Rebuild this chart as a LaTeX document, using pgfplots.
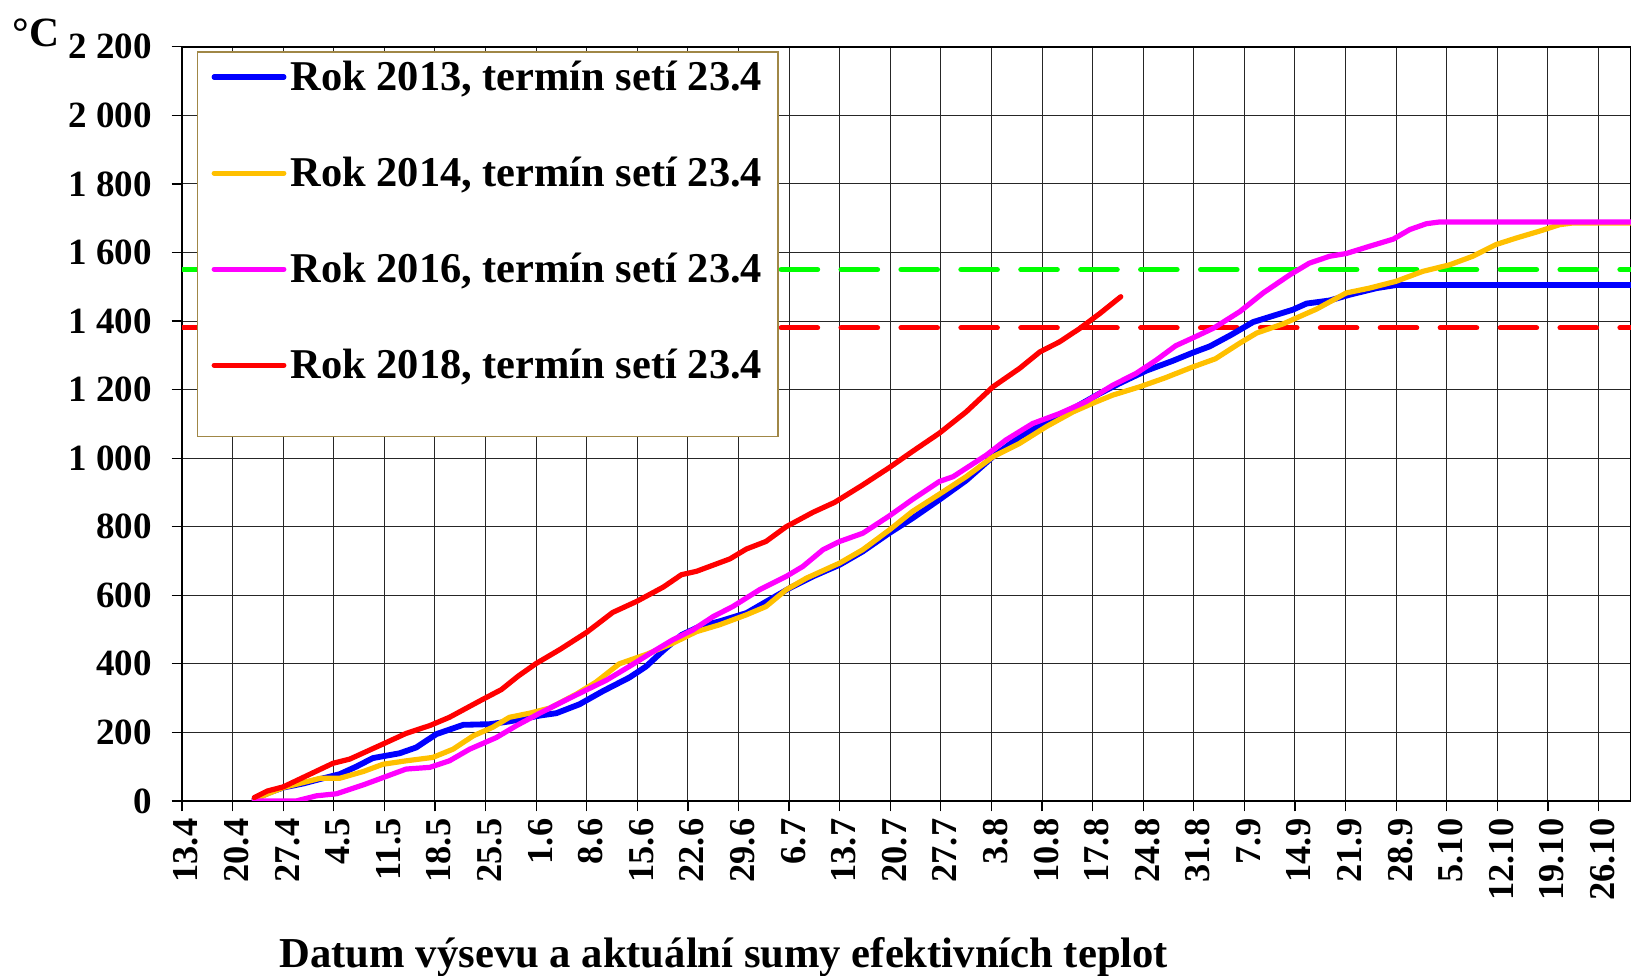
\documentclass[border=0pt]{standalone}
\usepackage{pgfplots}
\pgfplotsset{compat=1.18}
\usepackage{fontspec}
\setmainfont{Liberation Serif}
\definecolor{c13}{RGB}{0,0,255}
\definecolor{c14}{RGB}{255,192,0}
\definecolor{c16}{RGB}{255,0,255}
\definecolor{c18}{RGB}{255,0,0}
\definecolor{cgr}{RGB}{0,255,0}
\definecolor{legbord}{RGB}{160,135,70}
\begin{document}
\begin{tikzpicture}
\begin{axis}[
  scale only axis, width=696.5pt, height=362.5pt,
  xmin=0, xmax=200.5, ymin=0, ymax=2200,
  xtick={0,7,...,196},
  xticklabels={13.4,20.4,27.4,4.5,11.5,18.5,25.5,1.6,8.6,15.6,22.6,29.6,6.7,13.7,20.7,27.7,3.8,10.8,17.8,24.8,31.8,7.9,14.9,21.9,28.9,5.10,12.10,19.10,26.10},
  ytick={0,200,...,2200},
  grid=major,
  major grid style={black!85, line width=0.5pt},
  axis line style={black, line width=0.8pt},
  tick align=outside, xtick pos=bottom, ytick pos=left,
  major tick length=5pt,
  tick style={black, line width=0.6pt},
  /pgf/number format/assume math mode=true,
  /pgf/number format/1000 sep={\ },
  yticklabel style={font=\fontsize{17.8}{20}\selectfont\bfseries, xshift=-6pt},
  xticklabel style={font=\fontsize{17.5}{20}\selectfont\bfseries, rotate=90, anchor=east, yshift=-2pt},
  xlabel={Datum výsevu a aktuální sumy efektivních teplot},
  every axis x label/.style={at={(rel axis cs:0.374,0)}, anchor=base, yshift=-80pt, font=\fontsize{20.5}{24}\selectfont\bfseries},
  ylabel={°C},
  every axis y label/.style={at={(rel axis cs:0,1)}, anchor=base west, xshift=-85pt, font=\fontsize{20}{24}\selectfont\bfseries},
  legend style={at={(rel axis cs:0,1)}, anchor=north west, xshift=6.5pt, yshift=-2.5pt,
    draw=none, fill=none,
    font=\fontsize{20.4}{24}\selectfont\bfseries,
    inner xsep=7.5pt, inner ysep=4pt, row sep=30.5pt,
    cells={anchor=west}, nodes={inner sep=0pt},
    /tikz/every odd column/.style={column sep=2pt}},
  legend image code/.code={\draw[#1, line width=2.5pt] (0pt,0pt) -- (33.5pt,0pt);},
  every axis plot/.append style={line join=round, line cap=round},
]
\addplot[cgr, line width=2.5pt, dash pattern=on 17.5pt off 11.3pt, forget plot] coordinates {(0,1550) (200.5,1550)};
\addplot[c18, line width=2.5pt, dash pattern=on 17.5pt off 11.3pt, forget plot] coordinates {(0,1380) (200.5,1380)};

\addplot[c13, line width=2.8pt] coordinates {
(10,5) (12,24) (14,39) (16.8,51) (19.5,66) (21.8,78) (24.1,100) (26.4,125) (30.1,139) (32.4,156) (35.2,195) (38.9,222) (42.6,224) (45.3,232) (49.5,249) (51.8,256) (55,282) (58.2,320) (61.9,360) (64.2,392) (66.5,437) (69.1,484) (71.6,509) (74.4,524) (78.1,548) (81.3,587) (84.1,621) (87.3,655) (91,689) (94.2,728) (97.9,782) (101.1,825) (104.8,879) (108.5,935) (112.2,1004) (115.9,1062) (119.6,1106) (123.3,1145) (127,1189) (129.7,1218) (133.4,1255) (137.1,1284) (139.9,1308) (142.2,1326) (145.2,1360) (148.2,1397) (151.4,1418) (153.7,1433) (155.6,1451) (158.8,1460) (161.6,1477) (165.3,1496) (168,1505) (200.5,1505)};
\addlegendentry{Rok 2013, termín setí 23.4}

\addplot[c14, line width=2.5pt] coordinates {
(10,5) (14,39) (19.1,66) (21.8,66) (25.1,86) (27.8,107) (31,117) (34.7,127) (37.5,151) (40.3,190) (43,215) (45.3,244) (48.1,256) (50.9,271) (54.6,312) (57.3,347) (60.5,400) (64.3,428) (67.9,460) (71.2,494) (74.4,514) (78.1,543) (80.8,567) (83.6,616) (86.4,650) (91,694) (94.2,733) (97.9,791) (101.1,845) (104.8,895) (108.5,946) (112.2,1004) (115.9,1043) (119.6,1092) (123.3,1135) (126,1160) (128.8,1184) (132.5,1208) (136,1234) (139.6,1264) (143,1290) (146.4,1336) (148.7,1365) (152.4,1392) (154.2,1409) (157,1435) (161.1,1482) (164.3,1496) (168,1516) (171.7,1545) (175.4,1564) (178.6,1589) (181.8,1623) (184.6,1642) (187.8,1662) (190.6,1681) (192.4,1686) (200.5,1686)};
\addlegendentry{Rok 2014, termín setí 23.4}

\addplot[c16, line width=2.5pt] coordinates {
(10,0) (15.8,0) (18.6,15) (21.4,21) (25.1,47) (27.8,68) (31,93) (34.3,98) (37,117) (39.8,151) (43.5,185) (46.3,220) (49.5,256) (52.7,290) (55.3,317) (58.7,352) (62.1,395) (65.6,441) (67.9,470) (70.7,499) (73.5,538) (76.2,567) (79.9,616) (83.6,655) (85.9,684) (88.7,733) (91,757) (94.2,781) (97.9,832) (101.1,880) (104.8,932) (106.7,946) (111.3,1009) (114,1053) (117.7,1101) (121.4,1130) (125.1,1165) (128.8,1213) (132,1247) (134.8,1286) (137.5,1328) (140.3,1355) (142.8,1380) (146.4,1428) (149.6,1482) (153.3,1535) (156,1569) (158.8,1589) (161.1,1597) (164.3,1618) (167.6,1639) (169.9,1667) (172.2,1684) (174,1689) (200.5,1689)};
\addlegendentry{Rok 2016, termín setí 23.4}

\addplot[c18, line width=2.5pt] coordinates {
(10,10) (11.8,29) (14,41) (17.2,73) (20.9,110) (23.2,122) (27.8,166) (31,197) (34.3,220) (37,244) (41.4,294) (44.2,325) (46.5,364) (49,401) (52.3,442) (56,492) (59.6,550) (62.9,582) (66.6,624) (69.1,660) (71.2,670) (75.8,706) (78.1,735) (80.8,757) (83.6,800) (87.3,842) (90.3,871) (94.2,922) (97.9,973) (101.1,1020) (104.8,1073) (108.5,1135) (112.2,1208) (115.9,1262) (118.7,1310) (121.4,1339) (124.2,1378) (127,1422) (129.9,1471)};
\addlegendentry{Rok 2018, termín setí 23.4}

\draw[legbord, line width=0.6pt, fill=white] (rel axis cs:0.01077,0.9931) rectangle (rel axis cs:0.4113,0.4828);

\coordinate (bl) at (rel axis cs:0,0);
\coordinate (tr) at (rel axis cs:1,1);
\end{axis}
\pgfresetboundingbox
\path[use as bounding box] ([xshift=-87.5pt,yshift=-84pt]bl) rectangle ([yshift=22.5pt]tr);
\end{tikzpicture}
\end{document}
